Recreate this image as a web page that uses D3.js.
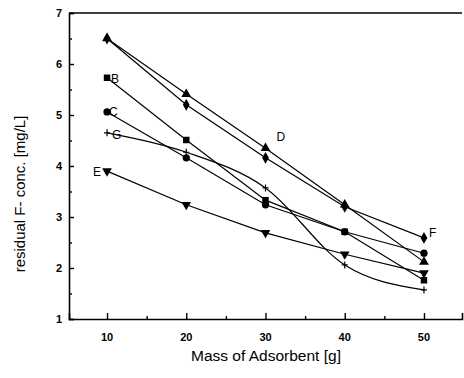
<!DOCTYPE html>
<html>
<head>
<meta charset="utf-8">
<script src="https://cdn.jsdelivr.net/npm/d3@7"></script>
<style>
  html, body { margin: 0; padding: 0; background: #fff; }
  svg { display: block; }
  text { font-family: "Liberation Sans", Arial, sans-serif; fill: #000; }
</style>
</head>
<body>
<svg id="chart" width="464" height="378"></svg>
<script>
// ---- data ----
const masses = [10, 20, 30, 40, 50];
const seriesA = [6.50, 5.20, 4.16, 3.20, 2.59];   // diamond (F)
const seriesD = [6.50, 5.41, 4.35, 3.24, 2.12];   // triangle up (D)
const seriesB = [5.73, 4.51, 3.33, 2.71, 1.76];   // square
const seriesC = [5.06, 4.16, 3.24, 2.71, 2.29];   // circle
const seriesG = [4.65, 4.27, 3.57, 2.06, 1.57];   // plus
const seriesE = [3.90, 3.24, 2.69, 2.27, 1.90];   // triangle down
const xTicks = [10, 20, 30, 40, 50];
const xMinor = [15, 25, 35, 45];
const yTicks = [1, 2, 3, 4, 5, 6, 7];
const yMinor = [1.5, 2.5, 3.5, 4.5, 5.5, 6.5];
const xTitle = "Mass of Adsorbent [g]";
const yTitle = "residual F- conc. [mg/L]";

const series = [
  {name: "F", values: seriesA, sym: "diamond", curve: "linear"},
  {name: "D", values: seriesD, sym: "triangle", curve: "linear"},
  {name: "B", values: seriesB, sym: "square", curve: "linear"},
  {name: "C", values: seriesC, sym: "circle", curve: "linear"},
  {name: "G", values: seriesG, sym: "plus", curve: "spline"},
  {name: "E", values: seriesE, sym: "triangleDown", curve: "linear"}
];

// ---- layout ----
const svg = d3.select("#chart");
const L = 69, R = 462, T = 13, B = 319;
const x = d3.scaleLinear().domain([5.2, 54.8]).range([L, R]);
const y = d3.scaleLinear().domain([1, 7]).range([B, T]);

// frame top line
svg.append("line").attr("x1", L).attr("x2", R).attr("y1", T).attr("y2", T)
  .attr("stroke", "#000").attr("stroke-width", 1.3);

// axes
const gx = svg.append("g").attr("transform", `translate(0,${B})`);
gx.call(d3.axisTop(x).tickValues(xTicks).tickSize(6).tickFormat(""));
const gxm = svg.append("g").attr("transform", `translate(0,${B})`);
gxm.call(d3.axisTop(x).tickValues(xMinor).tickSize(3).tickFormat(""));
const gy = svg.append("g").attr("transform", `translate(${L},0)`);
gy.call(d3.axisRight(y).tickValues(yTicks).tickSize(5).tickFormat(""));
const gym = svg.append("g").attr("transform", `translate(${L},0)`);
gym.call(d3.axisRight(y).tickValues(yMinor).tickSize(3).tickFormat(""));
[gx, gxm, gy, gym].forEach(g => {
  g.select(".domain").attr("stroke", "#000").attr("stroke-width", 1.6);
  g.selectAll(".tick line").attr("stroke", "#000").attr("stroke-width", 1.4);
});
gxm.select(".domain").remove();
gym.select(".domain").remove();

// tick labels
svg.append("g").selectAll("text").data(xTicks).join("text")
  .attr("x", d => x(d)).attr("y", 341)
  .attr("text-anchor", "middle")
  .attr("font-size", 11).attr("font-weight", "bold")
  .text(d => d);
svg.append("g").selectAll("text").data(yTicks).join("text")
  .attr("x", 62).attr("y", d => y(d) + 4)
  .attr("text-anchor", "end")
  .attr("font-size", 11).attr("font-weight", "bold")
  .text(d => d);

// titles
svg.append("text").attr("x", 266).attr("y", 361)
  .attr("text-anchor", "middle").attr("font-size", 15.5).text(xTitle);
svg.append("text")
  .attr("transform", `translate(25,194) rotate(-90)`)
  .attr("text-anchor", "middle").attr("font-size", 15).text(yTitle);

// lines
const lineFor = c => d3.line()
  .x((d, i) => x(masses[i])).y(d => y(d))
  .curve(c === "spline" ? d3.curveMonotoneX : d3.curveLinear);

series.forEach(s => {
  svg.append("path").datum(s.values)
    .attr("d", lineFor(s.curve))
    .attr("fill", "none").attr("stroke", "#000").attr("stroke-width", 1.2);
});

// markers
const symMap = {
  diamond: d3.symbolDiamond, triangle: d3.symbolTriangle, square: d3.symbolSquare,
  circle: d3.symbolCircle, plus: d3.symbolCross
};
series.forEach(s => {
  const g = svg.append("g");
  s.values.forEach((v, i) => {
    const px = x(masses[i]), py = y(v);
    if (s.sym === "plus") {
      g.append("path").attr("d", `M${px-3},${py}H${px+3}M${px},${py-3.5}V${py+3.5}`)
        .attr("stroke", "#000").attr("stroke-width", 1.2);
    } else if (s.sym === "triangleDown") {
      g.append("path").attr("transform", `translate(${px},${py}) rotate(180)`)
        .attr("d", d3.symbol(d3.symbolTriangle, 40)()).attr("fill", "#000");
    } else {
      const size = s.sym === "square" ? 42 : s.sym === "diamond" ? 40 : 42;
      g.append("path").attr("transform", `translate(${px},${py})`)
        .attr("d", d3.symbol(symMap[s.sym], size)()).attr("fill", "#000");
    }
  });
});

// series labels
const labels = [
  {t: "B", xi: 0, s: seriesB, dx: 4, dy: 5},
  {t: "C", xi: 0, s: seriesC, dx: 2, dy: 4},
  {t: "G", xi: 0, s: seriesG, dx: 5, dy: 6},
  {t: "E", xi: 0, s: seriesE, dx: -14, dy: 5},
  {t: "D", xi: 2, s: seriesD, dx: 11, dy: -7},
  {t: "F", xi: 4, s: seriesA, dx: 5, dy: -1}
];
svg.append("g").selectAll("text").data(labels).join("text")
  .attr("x", d => x(masses[d.xi]) + d.dx)
  .attr("y", d => y(d.s[d.xi]) + d.dy)
  .attr("font-size", 12)
  .text(d => d.t);
</script>
</body>
</html>
